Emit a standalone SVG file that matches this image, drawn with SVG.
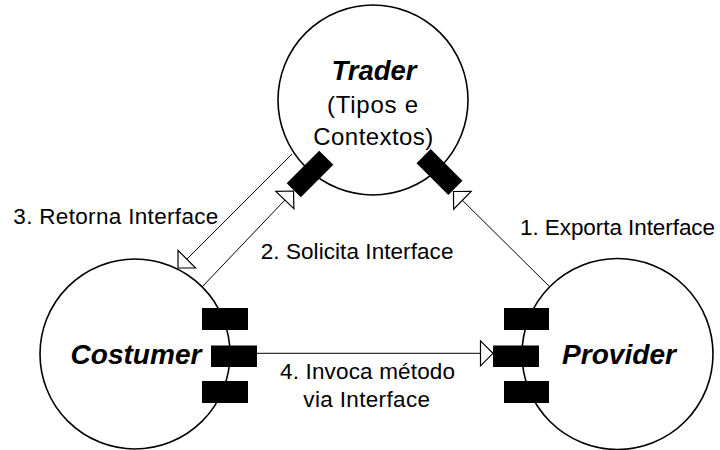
<svg xmlns="http://www.w3.org/2000/svg" width="720" height="450" viewBox="0 0 720 450">
<style>
.node{fill:#fff;stroke:#000;stroke-width:1.6}
.port{fill:#000;stroke:none}
.name{font-family:"Liberation Sans",Arial,sans-serif;font-weight:bold;font-style:italic;font-size:27px;fill:#000;text-anchor:middle}
.sub{font-family:"Liberation Sans",Arial,sans-serif;font-size:24px;fill:#000;text-anchor:middle}
.lbl{font-family:"Liberation Sans",Arial,sans-serif;font-size:22.5px;fill:#000}
.conn{fill:none;stroke:#000;stroke-width:1}
</style>
<defs>
<marker id="tri" viewBox="-14 -14 16 28" markerWidth="16" markerHeight="28" refX="0" refY="0" orient="auto" markerUnits="userSpaceOnUse">
<path d="M-12.5,-12.5 L0,0 L-12.5,12.5 Z" fill="#fff" stroke="#000" stroke-width="1.2"/>
</marker>
</defs>
<rect width="720" height="450" fill="#fff"/>
<g id="trader">
<circle class="node" cx="373" cy="100" r="95"/>
<rect class="port" x="-23" y="-10" width="46" height="20" transform="translate(310,174) rotate(-45)"/>
<rect class="port" x="-22.5" y="-10" width="45" height="20" transform="translate(439.5,172) rotate(45)"/>
<text class="name" x="374" y="80" textLength="85" lengthAdjust="spacingAndGlyphs">Trader</text>
<text class="sub" x="372.5" y="113" textLength="91" lengthAdjust="spacing">(Tipos e</text>
<text class="sub" x="373.3" y="145" textLength="120" lengthAdjust="spacing">Contextos)</text>
</g>
<g id="costumer">
<circle class="node" cx="135" cy="354" r="95"/>
<rect class="port" x="202" y="308" width="46" height="22"/>
<rect class="port" x="211" y="345.5" width="46" height="21.5"/>
<rect class="port" x="202" y="381" width="46" height="22"/>
<text class="name" x="136" y="364" textLength="131" lengthAdjust="spacingAndGlyphs">Costumer</text>
</g>
<g id="provider">
<circle class="node" cx="617.5" cy="354" r="95.5"/>
<rect class="port" x="504" y="308" width="45" height="22"/>
<rect class="port" x="493" y="345.5" width="46" height="21.5"/>
<rect class="port" x="504" y="381" width="45" height="22"/>
<text class="name" x="619" y="364" textLength="114" lengthAdjust="spacingAndGlyphs">Provider</text>
</g>
<g id="connectors">
<line class="conn" x1="550" y1="287" x2="453.5" y2="191.5" marker-end="url(#tri)"/>
<line class="conn" x1="202" y1="287" x2="293.5" y2="191" marker-end="url(#tri)"/>
<line class="conn" x1="292" y1="154" x2="178" y2="268" marker-end="url(#tri)"/>
<line class="conn" x1="257" y1="353.3" x2="493" y2="353.3" marker-end="url(#tri)"/>
</g>
<g id="labels">
<text class="lbl" x="13.3" y="224.3" textLength="205" lengthAdjust="spacing">3. Retorna Interface</text>
<text class="lbl" x="260.7" y="259.3" textLength="192.7" lengthAdjust="spacing">2. Solicita Interface</text>
<text class="lbl" x="520" y="235" textLength="195" lengthAdjust="spacing">1. Exporta Interface</text>
<text class="lbl" x="280" y="379.3" textLength="175" lengthAdjust="spacing">4. Invoca método</text>
<text class="lbl" x="303.3" y="406.7" textLength="126.7" lengthAdjust="spacing">via Interface</text>
</g>
</svg>
